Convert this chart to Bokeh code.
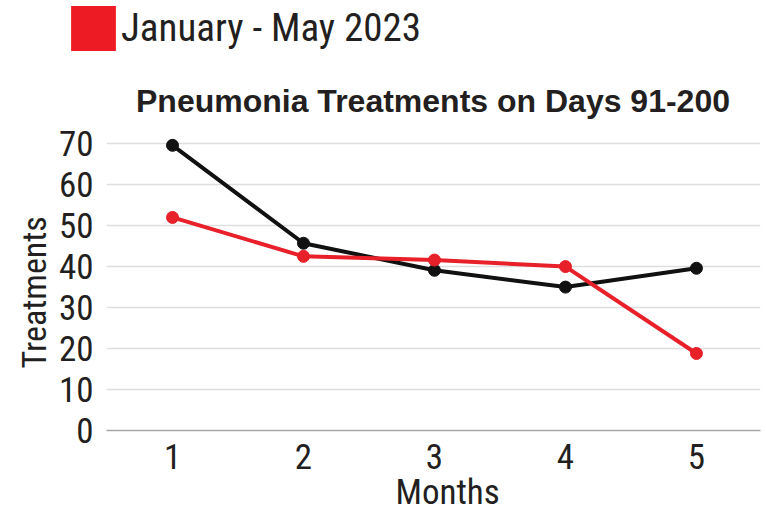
from bokeh.plotting import figure
from bokeh.layouts import column
from bokeh.models import Range1d, FixedTicker, Legend, LegendItem, Title
from bokeh.embed import file_html
from bokeh.resources import INLINE

# ---- data ----
months = [1, 2, 3, 4, 5]
series_black = [69.6, 45.7, 39.1, 35.0, 39.6]
series_red = [52.0, 42.5, 41.6, 40.0, 18.8]
y_ticks = [0, 10, 20, 30, 40, 50, 60, 70]
x_ticks = [1, 2, 3, 4, 5]
legend_label = "January - May 2023"
title_text = "Pneumonia Treatments on Days 91-200"
x_title = "Months"
y_title = "Treatments"

NARROW = "'Roboto Condensed', 'DejaVu Sans Condensed', 'Liberation Sans Narrow', 'Arial Narrow', Roboto"
BOLD = "Liberation Sans"
TXT = "#231f20"
RED = "#e8202a"
BLACK = "#111111"
NAN = float("nan")

# ---- legend strip ----
lg = figure(width=766, height=60, output_backend="svg", toolbar_location=None,
            x_range=Range1d(0, 1), y_range=Range1d(0, 1),
            x_axis_location=None, y_axis_location=None,
            min_border_left=65, min_border_top=0, min_border_right=0, min_border_bottom=0)
if "frame_align" in lg.properties():
    lg.frame_align = False
lg.grid.visible = False
lg.outline_line_color = None
sw = lg.quad(top=[NAN], bottom=[NAN], left=[NAN], right=[NAN],
             fill_color="#ed1c24", line_color=None)
legend = Legend(items=[LegendItem(label=legend_label, renderers=[sw])],
                location="top_left", orientation="horizontal",
                glyph_width=56, glyph_height=56, label_standoff=0,
                padding=0, margin=0, spacing=0,
                border_line_color=None, background_fill_alpha=0,
                label_text_font=NARROW, label_text_font_size="39px",
                label_text_color=TXT, label_text_baseline="middle")
lg.add_layout(legend)

# ---- main chart ----
p = figure(width=766, height=459, output_backend="svg", toolbar_location=None,
           x_range=Range1d(0.496, 5.489), y_range=Range1d(0, 72),
           min_border_left=106, min_border_right=6, min_border_top=75,
           min_border_bottom=89)
if "frame_align" in p.properties():
    p.frame_align = False
p.outline_line_color = None
p.background_fill_color = "white"
p.border_fill_color = "white"

p.xaxis.ticker = FixedTicker(ticks=x_ticks)
p.yaxis.ticker = FixedTicker(ticks=y_ticks)
p.xaxis.major_tick_line_color = None
p.xaxis.minor_tick_line_color = None
p.yaxis.major_tick_line_color = None
p.yaxis.minor_tick_line_color = None
p.yaxis.axis_line_color = None
p.xaxis.axis_line_color = "#a8a8a8"
p.xaxis.axis_line_width = 1.5
for ax in (p.xaxis, p.yaxis):
    ax.major_label_text_font = NARROW
    ax.major_label_text_font_size = "35px"
    ax.major_label_text_color = TXT
p.xaxis.major_label_standoff = 7
p.yaxis.major_label_standoff = 7

p.xgrid.grid_line_color = None
p.ygrid.grid_line_color = "#dedede"
p.ygrid.grid_line_width = 1.5

p.line(months, series_black, line_color=BLACK, line_width=4)
p.scatter(months, series_black, size=12, fill_color=BLACK, line_color=BLACK)
p.line(months, series_red, line_color=RED, line_width=4)
p.scatter(months, series_red, size=12, fill_color=RED, line_color=RED)

p.title.text = title_text
p.title.align = "left"
p.title.offset = 29.5
p.title.standoff = 34
p.title.text_font = BOLD
p.title.text_font_style = "bold"
p.title.text_font_size = "32px"
p.title.text_color = TXT

p.add_layout(Title(text=y_title, align="left", offset=62, vertical_align="bottom",
                   standoff=3, text_font=NARROW, text_font_size="34px",
                   text_font_style="normal", text_color=TXT), "left")
p.add_layout(Title(text=x_title, align="left", offset=289, vertical_align="top",
                   standoff=0, text_font=NARROW, text_font_size="35px",
                   text_font_style="normal", text_color=TXT), "below")

layout = column(lg, p, spacing=0)
open("out.html", "w").write(file_html(layout, INLINE))
